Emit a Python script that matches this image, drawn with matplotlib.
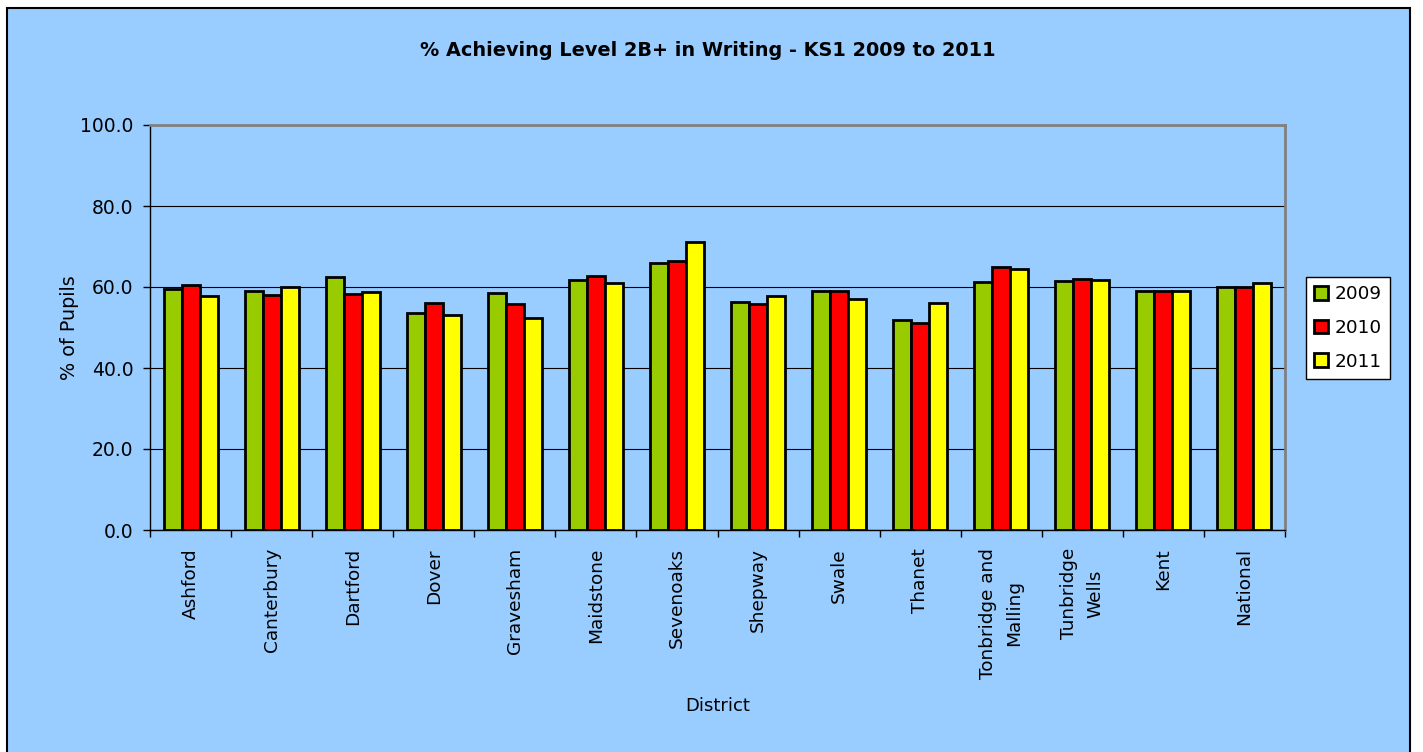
import matplotlib
matplotlib.use("Agg")
import matplotlib.pyplot as plt
from matplotlib.patches import Rectangle
import numpy as np

districts = ["Ashford", "Canterbury", "Dartford", "Dover", "Gravesham",
             "Maidstone", "Sevenoaks", "Shepway", "Swale", "Thanet",
             "Tonbridge and\nMalling", "Tunbridge\nWells", "Kent", "National"]
years = ["2009", "2010", "2011"]
pct_2009 = [59.6, 58.9, 62.5, 53.5, 58.5, 61.8, 66.0, 56.3, 59.1, 51.8, 61.2, 61.5, 59.0, 60.0]
pct_2010 = [60.5, 58.1, 58.3, 56.0, 55.9, 62.6, 66.5, 55.7, 58.9, 51.0, 64.9, 61.9, 59.0, 60.0]
pct_2011 = [57.9, 59.9, 58.8, 53.1, 52.4, 61.1, 71.1, 57.8, 57.1, 56.1, 64.4, 61.7, 59.0, 61.0]
yticks = [0, 20, 40, 60, 80, 100]

bg = "#99CCFF"
colors = ["#99CC00", "#FF0000", "#FFFF00"]
W, H = 1423, 752

fig = plt.figure(figsize=(W / 100, H / 100), dpi=100, facecolor="white")
# chart-area panel behind everything
fig.patches.append(Rectangle((7 / W, -0.02), (1410 - 7) / W, (744 + 15) / H,
                             transform=fig.transFigure, facecolor=bg,
                             edgecolor="black", lw=1.5, zorder=-10))

ax = fig.add_axes([150 / W, (H - 530) / H, (1285 - 150) / W, (530 - 125) / H])
ax.set_facecolor(bg)

x = np.arange(len(districts))
bw = 0.222
for i, (vals, c, lab) in enumerate(zip([pct_2009, pct_2010, pct_2011], colors, years)):
    ax.bar(x + (i - 1) * bw, vals, width=bw, color=c, edgecolor="black",
           linewidth=2, label=lab, zorder=3)

ax.set_xlim(-0.5, len(districts) - 0.5)
ax.set_ylim(0, 100)
ax.set_yticks(yticks)
ax.set_yticklabels([f"{v:.1f}" for v in yticks], fontsize=13.5)
ax.yaxis.grid(True, color="black", lw=0.8, zorder=1)
ax.set_axisbelow(True)

ax.set_xticks(x)
ax.set_xticklabels(districts, rotation=90, fontsize=13.3, ha="center", va="top",
                   multialignment="center", linespacing=1.55)
ax.set_xticks(np.arange(len(districts) + 1) - 0.5, minor=True)
ax.tick_params(axis="x", which="major", length=0, pad=13)
ax.tick_params(axis="x", which="minor", length=5, width=1, direction="out")
ax.tick_params(axis="y", length=5, width=1, direction="out", pad=7)

for s in ["top", "right"]:
    ax.spines[s].set_color("#808080")
    ax.spines[s].set_linewidth(2)
for s in ["left", "bottom"]:
    ax.spines[s].set_color("black")
    ax.spines[s].set_linewidth(1)

ax.set_ylabel("% of Pupils", fontsize=13.8, labelpad=1)
ax.set_xlabel("District", fontsize=13)
ax.xaxis.set_label_coords(0.5, (530 - 697) / (530 - 125))

fig.text(708 / W, 1 - 50 / H, "% Achieving Level 2B+ in Writing - KS1 2009 to 2011",
         ha="center", va="center", fontsize=13.9, fontweight="bold")

leg = fig.legend(loc="center left", bbox_to_anchor=(1306 / W, 1 - 328 / H),
                 fontsize=13.3, frameon=True, fancybox=False, edgecolor="black",
                 facecolor="white", framealpha=1, handlelength=0.75,
                 handleheight=0.75, handletextpad=0.35, labelspacing=0.85,
                 borderpad=0.45, borderaxespad=0)
leg.get_frame().set_linewidth(1)

fig.savefig("out.png", dpi=100, facecolor="white")
